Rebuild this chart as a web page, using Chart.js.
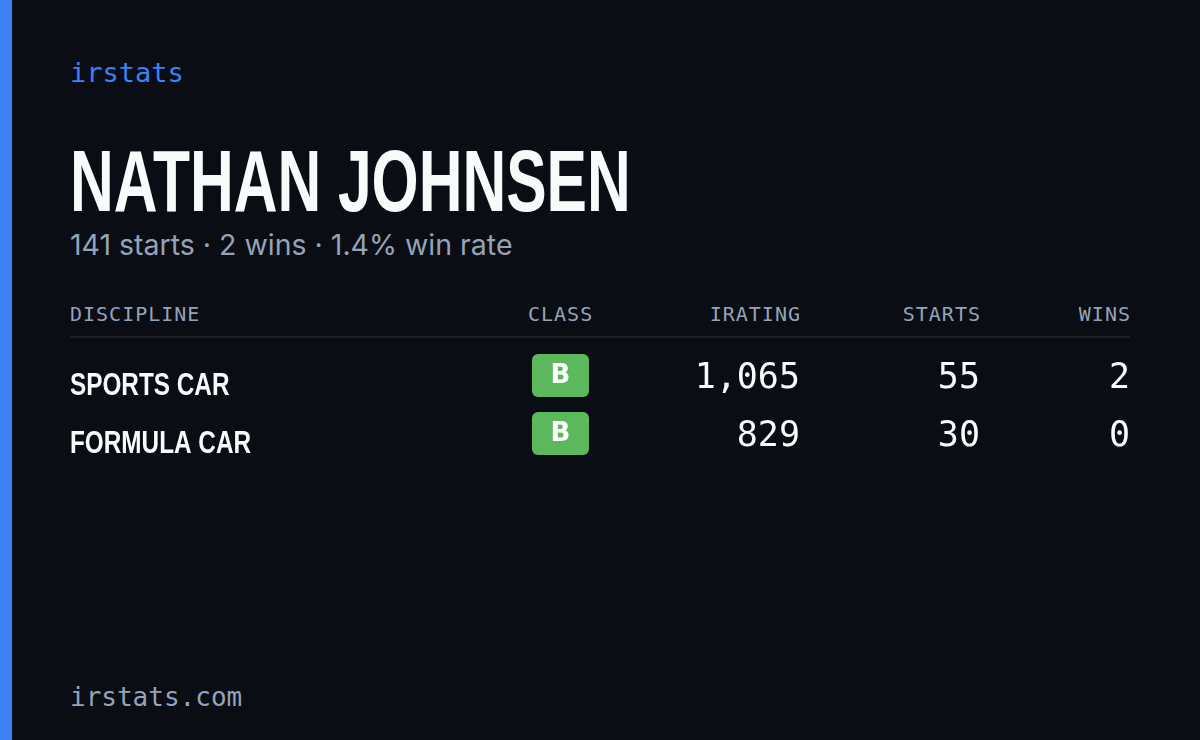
<!DOCTYPE html>
<html><head><meta charset="utf-8">
<script src="https://cdn.jsdelivr.net/npm/chart.js@4/dist/chart.umd.min.js"></script>
<style>
html,body{margin:0;padding:0;background:#0a0d14;width:1200px;height:740px;overflow:hidden}
.bar{position:absolute;left:0;top:0;width:12px;height:740px;background:#3b82f6}
.t{position:absolute;white-space:nowrap}
.mono{font-family:"DejaVu Sans Mono",monospace}
.hd{position:absolute;top:302px;font-family:"DejaVu Sans Mono",monospace;font-size:20px;color:#94a3b8;letter-spacing:1px}
</style></head><body>
<div class="bar"></div>
<div class="t mono" style="left:70px;top:57px;font-size:27px;color:#3b82f6">irstats</div>
<div class="t" style="left:70px;top:137px;line-height:88px;font-family:'Liberation Sans',sans-serif;font-weight:bold;font-size:88px;color:#f8fafc;transform:scaleX(0.688);transform-origin:left">NATHAN JOHNSEN</div>
<div class="t" style="left:70px;top:227px;font-family:Inter,sans-serif;font-size:28.5px;color:#94a3b8">141 starts · 2 wins · 1.4% win rate</div>
<div class="hd" style="left:70px">DISCIPLINE</div>
<div class="hd" style="left:528px">CLASS</div>
<div class="hd" style="right:399px">IRATING</div>
<div class="hd" style="right:219px">STARTS</div>
<div class="hd" style="right:69px">WINS</div>
<div style="position:absolute;left:70px;top:336px;width:1060px;height:2px;background:#1a1f2b"></div>
<div style="position:absolute;left:0;top:351px;width:1200px;height:116px"><canvas id="c"></canvas></div>
<div class="t mono" style="left:70px;top:682px;font-size:26px;color:#94a3b8">irstats.com</div>
<script>
const disciplines=["SPORTS CAR","FORMULA CAR"];
const classes=["B","B"];
const iratings=[1065,829];
const starts=[55,30];
const wins=[2,0];
const plug={id:'tbl',afterDraw(ch){
 const c=ch.ctx,y=ch.scales.y;
 disciplines.forEach((d,i)=>{
  const py=y.getPixelForValue(i);
  c.save();
  c.fillStyle='#f8fafc';c.textBaseline='middle';
  c.save();c.translate(70,py+6);c.scale(0.76,1);
  c.font='bold 32px "Liberation Sans"';c.textAlign='left';
  c.fillText(d,0,0);c.restore();
  c.fillStyle='#5cb85c';c.beginPath();c.roundRect(532,py-26,57,43,6);c.fill();
  c.fillStyle='#fff';c.font='bold 26px "DejaVu Sans"';c.textAlign='center';
  c.fillText(classes[i],560.5,py-4);
  c.fillStyle='#f8fafc';c.font='35px "DejaVu Sans Mono"';c.textAlign='right';
  c.fillText(iratings[i].toLocaleString('en-US'),800,py-1);
  c.fillText(String(starts[i]),980,py-1);
  c.fillText(String(wins[i]),1130,py-1);
  c.restore();
 });
}};
new Chart(document.getElementById('c'),{type:'scatter',
 data:{datasets:[{data:[],pointRadius:0}]},
 options:{responsive:true,maintainAspectRatio:false,animation:false,
  layout:{padding:0},
  plugins:{legend:{display:false},tooltip:{enabled:false}},
  scales:{x:{display:false,min:0,max:1},
   y:{type:'category',labels:disciplines,offset:true,display:false}}},
 plugins:[plug]});
</script>
</body></html>
